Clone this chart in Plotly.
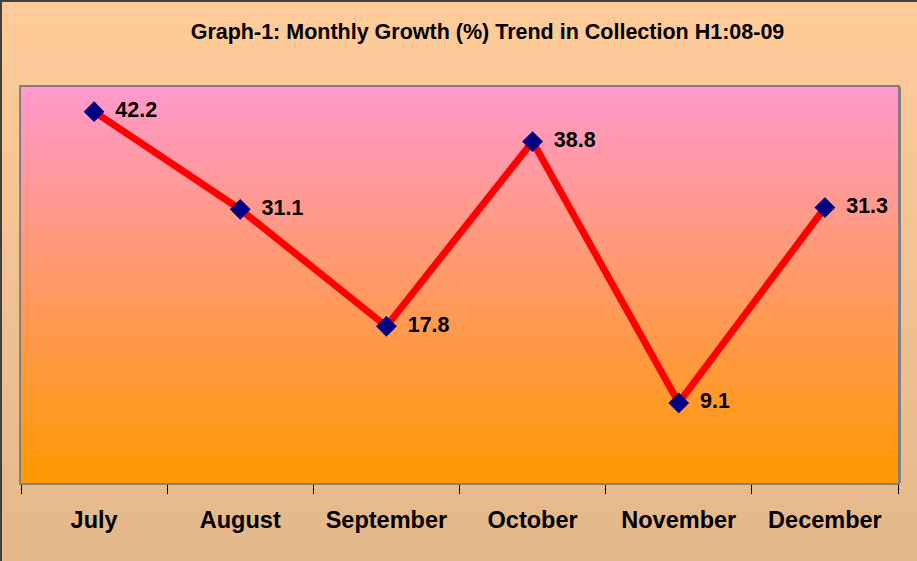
import plotly.graph_objects as go

# ---- data ----
months = ["July", "August", "September", "October", "November", "December"]
growth = [42.2, 31.1, 17.8, 38.8, 9.1, 31.3]
value_labels = [" \u2009" + f"{v:.1f}" for v in growth]
chart_title = "Graph-1: Monthly Growth (%) Trend in Collection H1:08-09"

# ---- layout geometry ----
W, H = 917, 561
L, R, T, B = 21, 19, 87, 78
pw, ph = W - L - R, H - T - B

FONT = "Liberation Sans, Arial, Helvetica, sans-serif"


def lerp(c1, c2, t):
    return "rgb({},{},{})".format(*[round(a + (b - a) * t) for a, b in zip(c1, c2)])


shapes = []

# figure background gradient (paper coords extended into margins)
fx0, fx1 = -L / pw, 1 + R / pw
fy0, fy1 = -B / ph, 1 + T / ph
N = 90
top_c, bot_c = (255, 204, 153), (227, 184, 138)
eps = 0.6 / ph
for i in range(N):
    ya = fy1 - (fy1 - fy0) * i / N
    yb = fy1 - (fy1 - fy0) * (i + 1) / N
    shapes.append(dict(type="rect", xref="paper", yref="paper", x0=fx0, x1=fx1,
                       y0=yb - eps, y1=ya + eps, fillcolor=lerp(top_c, bot_c, (i + 0.5) / N),
                       line=dict(width=0), layer="below"))

# plot area gradient (pink -> orange)
p_top, p_bot = (255, 153, 204), (255, 153, 0)
for i in range(N):
    ya = 1 - i / N
    yb = 1 - (i + 1) / N
    shapes.append(dict(type="rect", xref="paper", yref="paper", x0=0, x1=1,
                       y0=max(0, yb - eps), y1=min(1, ya + eps),
                       fillcolor=lerp(p_top, p_bot, (i + 0.5) / N),
                       line=dict(width=0), layer="below"))

# shadow at right of plot area
shapes.append(dict(type="rect", xref="paper", yref="paper", x0=1, x1=1 + 3 / pw,
                   y0=0, y1=1, fillcolor="#808080", line=dict(width=0), layer="below"))

# outer border (left and top visible)
shapes.append(dict(type="line", xref="paper", yref="paper", x0=fx0 + 1 / pw, x1=fx0 + 1 / pw,
                   y0=fy0, y1=fy1, line=dict(color="#404040", width=2), layer="above"))
shapes.append(dict(type="line", xref="paper", yref="paper", x0=fx0, x1=fx1,
                   y0=fy1 - 1 / ph, y1=fy1 - 1 / ph, line=dict(color="#404040", width=2), layer="above"))

fig = go.Figure()
fig.add_trace(go.Scatter(
    x=months, y=growth, text=value_labels,
    mode="lines+markers+text",
    line=dict(color="#FF0000", width=7),
    marker=dict(symbol="diamond", size=16, color="#000080", line=dict(width=0)),
    textposition="middle right",
    textfont=dict(family=FONT, size=21.5, color="#000000", weight="bold"),
    cliponaxis=False,
    hoverinfo="skip",
))

fig.update_layout(
    width=W, height=H,
    margin=dict(l=L, r=R, t=T, b=B),
    paper_bgcolor="#FFCC99",
    plot_bgcolor="rgba(0,0,0,0)",
    showlegend=False,
    shapes=shapes,
    title=dict(text=chart_title, x=487.5 / W, xanchor="center", xref="container",
               y=1 - 31 / H, yanchor="middle", yref="container",
               font=dict(family=FONT, size=21.5, color="#000000", weight="bold")),
    xaxis=dict(
        type="category", range=[-0.5, 5.5], tickson="boundaries",
        ticks="outside", ticklen=9, tickcolor="#000000", tickwidth=1,
        showline=True, linecolor="#808080", linewidth=2, mirror=True,
        showgrid=False, zeroline=False, ticklabelstandoff=15,
        tickfont=dict(family=FONT, size=23.5, color="#000000", weight="bold"),
    ),
    yaxis=dict(
        range=[0, 45], showticklabels=False, ticks="",
        showline=True, linecolor="#808080", linewidth=2, mirror=True,
        showgrid=False, zeroline=False,
    ),
)

fig.write_html(
    "out.html",
    config={"displayModeBar": False},
    post_script="document.body.style.margin='0px';document.body.style.overflow='hidden';document.documentElement.style.overflow='hidden';",
)
